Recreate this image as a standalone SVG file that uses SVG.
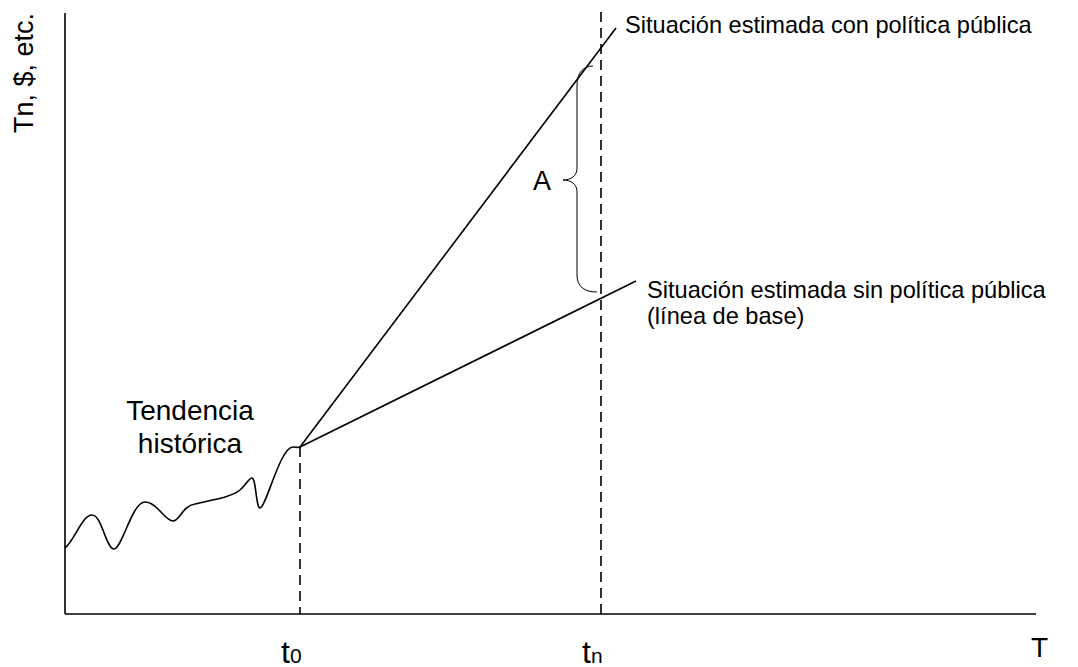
<svg xmlns="http://www.w3.org/2000/svg" width="1078" height="667" viewBox="0 0 1078 667">
<style>
.ln{stroke:#000;stroke-width:1.6;fill:none}
.br{stroke:#000;stroke-width:1;fill:none}
.ds{stroke:#000;stroke-width:1.6;fill:none;stroke-dasharray:10 6}
text{font-family:"Liberation Sans",Arial,sans-serif;fill:#000}
</style>
<rect width="1078" height="667" fill="#fff"/>
<g id="axes">
<line class="ln" x1="65" y1="13" x2="65" y2="614"/>
<line class="ln" x1="65" y1="614" x2="1036" y2="614"/>
</g>
<g id="guides">
<line class="ds" x1="300" y1="447" x2="300" y2="614"/>
<line class="ds" x1="601" y1="12" x2="601" y2="614"/>
</g>
<g id="connectors">
<path id="historica" class="ln" d="M65,548 C75,540 82,515 92,515 C102,515 106,549 114,549 C122,549 132,502 145,502 C157,502 165,521 173,521 C180,521 182,506 195,504 C210,500 230,498 240,490 C246,485 249,478 252,478 C256,478 256,508 260,508 C266,508 280,447 293,447 C296,447 298,448 300,447"/>
<line id="con" class="ln" x1="300" y1="447" x2="616" y2="28"/>
<line id="sin" class="ln" x1="300" y1="447" x2="636" y2="281"/>
<path id="brace" class="br" d="M593,66 C584,66 577,72 577,85 L577,168 C577,176 571,180 563,180 C571,180 577,184 577,192 L577,275 C577,287 585,292 597,292"/>
</g>
<g id="labels">
<text x="33" y="13" font-size="27" text-anchor="end" transform="rotate(-90 33 13)">Tn, $, etc.</text>
<text x="625" y="33" font-size="23.6">Situación estimada con política pública</text>
<text x="647" y="298" font-size="23.6">Situación estimada sin política pública</text>
<text x="647" y="324" font-size="23.6">(línea de base)</text>
<text x="533" y="190" font-size="27">A</text>
<text x="190" y="420" font-size="28" text-anchor="middle">Tendencia</text>
<text x="190" y="453" font-size="28" text-anchor="middle">histórica</text>
<text x="281" y="663" font-size="32">t<tspan font-size="21">0</tspan></text>
<text x="582" y="663" font-size="32">t<tspan font-size="21">n</tspan></text>
<text x="1031" y="657" font-size="28">T</text>
</g>
</svg>
